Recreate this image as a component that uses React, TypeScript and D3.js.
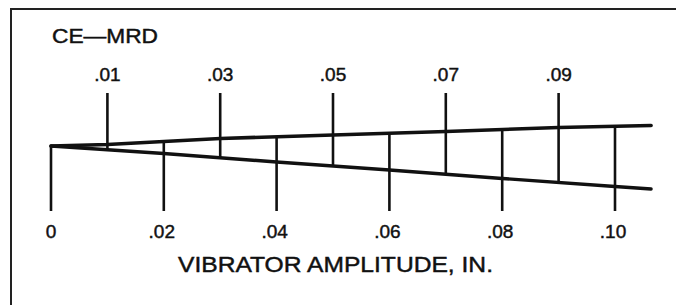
import React from "react";
import * as d3 from "d3";

// Amplitude (in.) positions along the scale
const upperAmps = [0, 0.01, 0.03, 0.05, 0.07, 0.09, 0.1064];
const upperVals = [0, 1.5, 7.5, 11, 14.5, 18.5, 20.5];
const lowerAmps = [0, 0.02, 0.04, 0.06, 0.08, 0.1, 0.1064];
const lowerVals = [0, -7.5, -16, -24, -32.5, -40.5, -43];

const topTicks = [0.01, 0.03, 0.05, 0.07, 0.09];
const topTickLabels = [".01", ".03", ".05", ".07", ".09"];
const bottomTicks = [0, 0.02, 0.04, 0.06, 0.08, 0.1];
const bottomTickLabels = ["0", ".02", ".04", ".06", ".08", ".10"];

const title = "CE\u2014MRD";
const xTitle = "VIBRATOR AMPLITUDE, IN.";

const W = 676;
const H = 305;

export default function App() {
  const x = d3.scaleLinear().domain([0, 0.1]).range([51, 615]);
  const y = d3.scaleLinear().domain([-45, 25]).range([146 + 45, 146 - 25]);

  const upperPts: [number, number][] = upperAmps.map((a, i) => [a, upperVals[i]]);
  const lowerPts: [number, number][] = lowerAmps.map((a, i) => [a, lowerVals[i]]);
  const upperFn = d3.scaleLinear().domain(upperAmps).range(upperVals);
  const lowerFn = d3.scaleLinear().domain(lowerAmps).range(lowerVals);

  const line = d3
    .line<[number, number]>()
    .x((d) => x(d[0]))
    .y((d) => y(d[1]));

  const tickTopY = 93;
  const tickBottomY = 211;
  const ink = "#111";
  const font = "'Liberation Sans', Arial, Helvetica, sans-serif";
  const textStroke = { stroke: ink, strokeWidth: 0.45 };

  return (
    <svg
      width={W}
      height={H}
      viewBox={`0 0 ${W} ${H}`}
      style={{ position: "absolute", left: 0, top: 0, background: "#fff" }}
    >
      <rect x={0} y={0} width={W} height={H} fill="#fff" />
      {/* frame */}
      <line x1={10} y1={9} x2={W} y2={9} stroke="#222" strokeWidth={2} />
      <line x1={11} y1={8} x2={11} y2={H} stroke="#222" strokeWidth={2} />

      {/* odd ticks: from top down to lower line */}
      {topTicks.map((t) => (
        <line
          key={"t" + t}
          x1={x(t)}
          x2={x(t)}
          y1={tickTopY}
          y2={y(lowerFn(t))}
          stroke={ink}
          strokeWidth={2.6}
        />
      ))}
      {/* even ticks: from upper line down past lower line */}
      {bottomTicks.map((t) => (
        <line
          key={"b" + t}
          x1={x(t)}
          x2={x(t)}
          y1={y(upperFn(t))}
          y2={tickBottomY}
          stroke={ink}
          strokeWidth={2.6}
        />
      ))}

      <path d={line(upperPts) || ""} fill="none" stroke={ink} strokeWidth={3.6} strokeLinecap="round" strokeLinejoin="round" />
      <path d={line(lowerPts) || ""} fill="none" stroke={ink} strokeWidth={3.4} strokeLinecap="round" strokeLinejoin="round" />

      {topTicks.map((t, i) => (
        <text
          key={"tl" + t}
          x={x(t)}
          y={81}
          textAnchor="middle"
          fontFamily={font}
          fontSize={19}
          fill={ink}
          {...textStroke}
        >
          {topTickLabels[i]}
        </text>
      ))}
      {bottomTicks.map((t, i) => (
        <text
          key={"bl" + t}
          x={x(t) - (i === 0 ? 0 : 2)}
          y={238}
          textAnchor="middle"
          fontFamily={font}
          fontSize={19}
          fill={ink}
          {...textStroke}
        >
          {bottomTickLabels[i]}
        </text>
      ))}

      <text
        x={52}
        y={43}
        fontFamily={font}
        fontSize={20}
        fill={ink}
        textLength={106}
        lengthAdjust="spacingAndGlyphs"
        {...textStroke}
      >
        {title}
      </text>
      <text
        x={178}
        y={272}
        fontFamily={font}
        fontSize={21.5}
        fill={ink}
        textLength={315}
        lengthAdjust="spacingAndGlyphs"
        {...textStroke}
      >
        {xTitle}
      </text>
    </svg>
  );
}
